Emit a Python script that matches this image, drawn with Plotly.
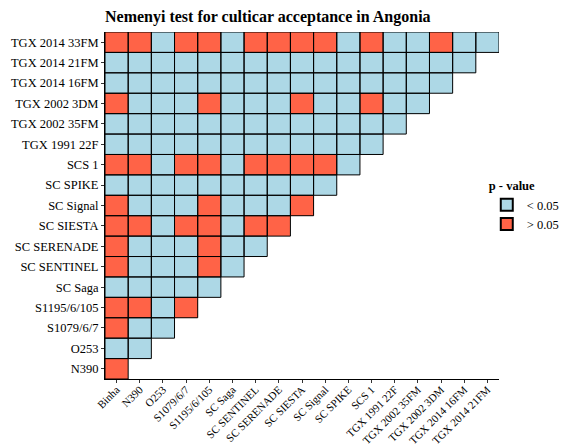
import plotly.graph_objects as go

# columns (x) and rows (y, bottom to top)
cols = ["Binha", "N390", "O253", "S1079/6/7", "S1195/6/105", "SC Saga", "SC SENTINEL",
        "SC SERENADE", "SC SIESTA", "SC Signal", "SC SPIKE", "SCS 1", "TGX 1991 22F",
        "TGX 2002 35FM", "TGX 2002 3DM", "TGX 2014 16FM", "TGX 2014 21FM"]
rows = ["N390", "O253", "S1079/6/7", "S1195/6/105", "SC Saga", "SC SENTINEL", "SC SERENADE",
        "SC SIESTA", "SC Signal", "SC SPIKE", "SCS 1", "TGX 1991 22F", "TGX 2002 35FM",
        "TGX 2002 3DM", "TGX 2014 16FM", "TGX 2014 21FM", "TGX 2014 33FM"]

# 1 = p > 0.05, 0 = p < 0.05 (lower triangle, row by row, bottom to top)
row_N390 = [1]
row_O253 = [0, 0]
row_S1079 = [1, 0, 0]
row_S1195 = [1, 1, 0, 1]
row_SCSaga = [0, 0, 0, 0, 0]
row_SENTINEL = [1, 0, 0, 0, 1, 0]
row_SERENADE = [1, 0, 0, 0, 1, 0, 0]
row_SIESTA = [1, 1, 0, 1, 1, 0, 1, 1]
row_Signal = [1, 0, 0, 0, 1, 0, 0, 0, 1]
row_SPIKE = [0, 0, 0, 0, 0, 0, 0, 0, 0, 0]
row_SCS1 = [1, 1, 0, 1, 1, 0, 1, 1, 1, 1, 0]
row_TGX1991 = [0] * 12
row_TGX2002_35 = [0] * 13
row_TGX2002_3 = [1, 0, 0, 0, 1, 0, 0, 0, 1, 0, 0, 1, 0, 0]
row_TGX2014_16 = [0] * 15
row_TGX2014_21 = [0] * 16
row_TGX2014_33 = [1, 1, 0, 1, 1, 0, 1, 1, 1, 1, 0, 1, 0, 0, 1, 0, 0]

matrix = [row_N390, row_O253, row_S1079, row_S1195, row_SCSaga, row_SENTINEL, row_SERENADE,
          row_SIESTA, row_Signal, row_SPIKE, row_SCS1, row_TGX1991, row_TGX2002_35,
          row_TGX2002_3, row_TGX2014_16, row_TGX2014_21, row_TGX2014_33]

BLUE = "#ADD8E6"
RED = "#FF6347"

z = []
for r in matrix:
    z.append(r + [None] * (len(cols) - len(r)))

fig = go.Figure()
fig.add_trace(go.Heatmap(
    x=cols, y=rows, z=z, zmin=0, zmax=1,
    colorscale=[[0, BLUE], [0.5, BLUE], [0.5, RED], [1, RED]],
    showscale=False, hoverongaps=False,
))

shapes = []
for yi, r in enumerate(matrix):
    for xi, v in enumerate(r):
        shapes.append(dict(type="rect", xref="x", yref="y",
                           x0=xi - 0.5, x1=xi + 0.5, y0=yi - 0.5, y1=yi + 0.5,
                           line=dict(color="black", width=1), fillcolor="rgba(0,0,0,0)"))

for name, col in [("< 0.05", BLUE), ("> 0.05", RED)]:
    fig.add_trace(go.Scatter(x=[None], y=[None], mode="markers", name=name,
                             marker=dict(symbol="square", size=13, color=col,
                                         line=dict(color="black", width=1))))

font = "Liberation Serif"
fs = 12.5
fig.update_layout(
    width=568, height=448,
    margin=dict(l=105, r=69, t=32, b=69, autoexpand=False),
    paper_bgcolor="white", plot_bgcolor="white",
    font=dict(family=font, size=fs, color="black"),
    title=dict(text="<b>Nemenyi test for culticar acceptance in Angonia</b>",
               x=0, xref="paper", xanchor="left", y=0.975, yanchor="top",
               font=dict(family=font, size=16, color="black")),
    shapes=shapes,
    legend=dict(title=dict(text="<b>p - value</b>", font=dict(size=fs)),
                xref="container", yref="container",
                x=0.857, xanchor="left", y=0.612, yanchor="top",
                font=dict(size=fs), tracegroupgap=0, itemsizing="constant",
                bgcolor="rgba(0,0,0,0)"),
    showlegend=True,
)
fig.update_xaxes(type="category", categoryorder="array", categoryarray=cols,
                 range=[-0.5, len(cols) - 0.5], tickangle=-45, showgrid=False,
                 showline=True, linecolor="black", linewidth=1, automargin=False,
                 ticks="outside", ticklen=3, tickcolor="#333333",
                 ticklabelstandoff=-4,
                 tickfont=dict(family=font, size=11, color="black"), zeroline=False)
fig.update_yaxes(type="category", categoryorder="array", categoryarray=rows,
                 range=[-0.5, len(rows) - 0.5], showgrid=False,
                 showline=True, linecolor="black", linewidth=1, automargin=False,
                 ticks="outside", ticklen=3, tickcolor="#333333",
                 tickfont=dict(family=font, size=fs, color="black"), zeroline=False)

fig.write_html("out.html")
